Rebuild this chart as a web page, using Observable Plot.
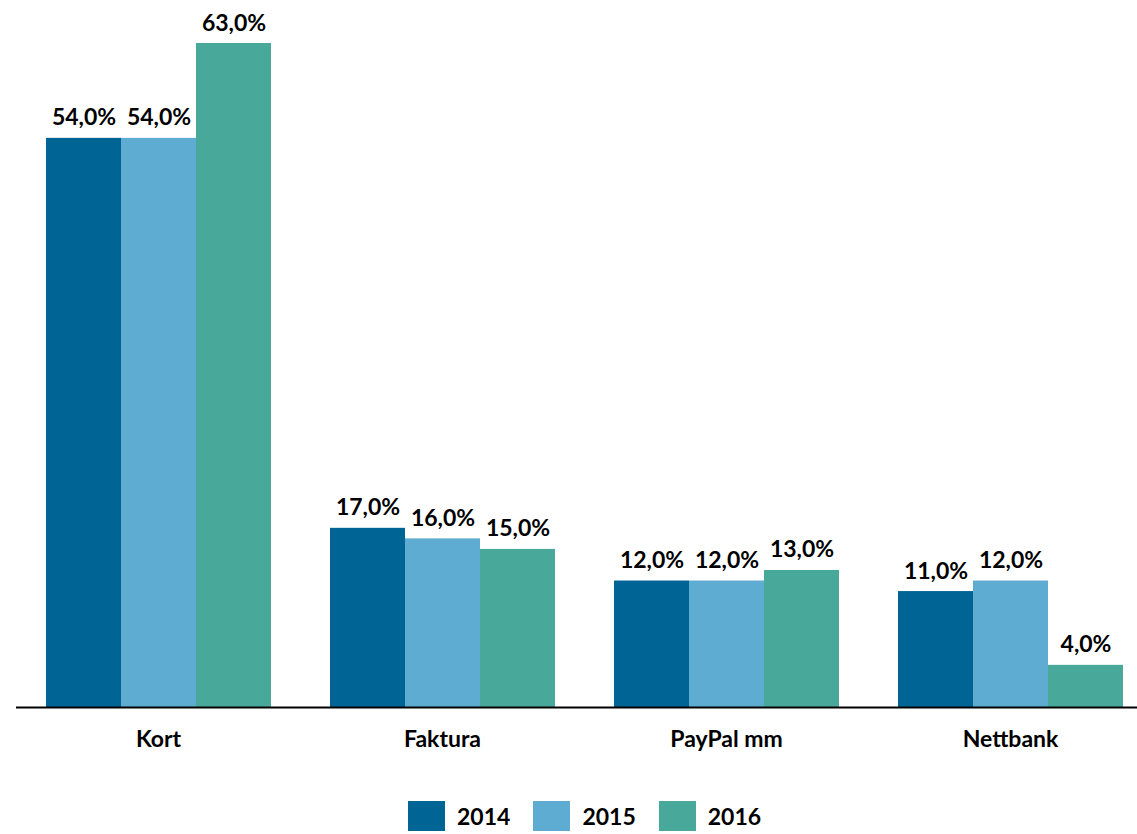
<!DOCTYPE html>
<html>
<head>
<meta charset="utf-8">
<script src="https://cdn.jsdelivr.net/npm/d3@7"></script>
<script src="https://cdn.jsdelivr.net/npm/@observablehq/plot@0.6"></script>
<style>
  html, body { margin: 0; padding: 0; background: #fff; overflow: hidden; }
  #chart svg { display: block; }
  #legend { display: flex; align-items: center; height: 64px; margin-top: 14px; padding-left: 408px; font-family: Lato, sans-serif; font-weight: bold; font-size: 23px; color: #000; }
  .item { display: flex; align-items: center; margin-right: 23px; }
  .sw { width: 37px; height: 30px; margin-right: 12px; }
</style>
</head>
<body>
<div id="chart"></div>
<div id="legend"></div>
<script>
const categories = ["Kort", "Faktura", "PayPal mm", "Nettbank"];
const years = ["2014", "2015", "2016"];
const v2014 = [54, 17, 12, 11];
const v2015 = [54, 16, 12, 12];
const v2016 = [63, 15, 13, 4];
const colors = ["#006594", "#5eacd2", "#48a99b"];

const series = [v2014, v2015, v2016];
const data = [];
categories.forEach((c, i) => {
  years.forEach((y, j) => data.push({category: c, year: y, value: series[j][i]}));
});
const fmt = v => v.toFixed(1).replace(".", ",") + "%";

const chart = Plot.plot({
  width: 1137,
  height: 770,
  marginTop: 43,
  marginBottom: 63,
  marginLeft: 16,
  marginRight: -15,
  style: {fontFamily: "Lato, sans-serif", fontWeight: "bold", color: "#000"},
  fx: {domain: categories, paddingInner: 0.204, paddingOuter: 0.102, label: null},
  x: {domain: years, padding: 0, axis: null},
  y: {domain: [0, 63], axis: null},
  color: {domain: years, range: colors},
  marks: [
    Plot.barY(data, {fx: "category", x: "year", y: "value", fill: "year"}),
    Plot.text(data, {fx: "category", x: "year", y: "value", text: d => fmt(d.value), lineAnchor: "bottom", dy: -13, fontSize: 23, fontWeight: "bold", fill: "#000"}),
    Plot.ruleY([0], {stroke: "#000", strokeWidth: 2, insetLeft: -29, insetRight: -29}),
    Plot.axisFx({anchor: "bottom", tickSize: 0, tickPadding: 23, fontSize: 23, fontWeight: "bold", label: null})
  ]
});
document.getElementById("chart").appendChild(chart);

const legend = document.getElementById("legend");
years.forEach((y, i) => {
  const item = document.createElement("div");
  item.className = "item";
  const sw = document.createElement("div");
  sw.className = "sw";
  sw.style.background = colors[i];
  const t = document.createElement("span");
  t.textContent = y;
  item.appendChild(sw);
  item.appendChild(t);
  legend.appendChild(item);
});
</script>
</body>
</html>
